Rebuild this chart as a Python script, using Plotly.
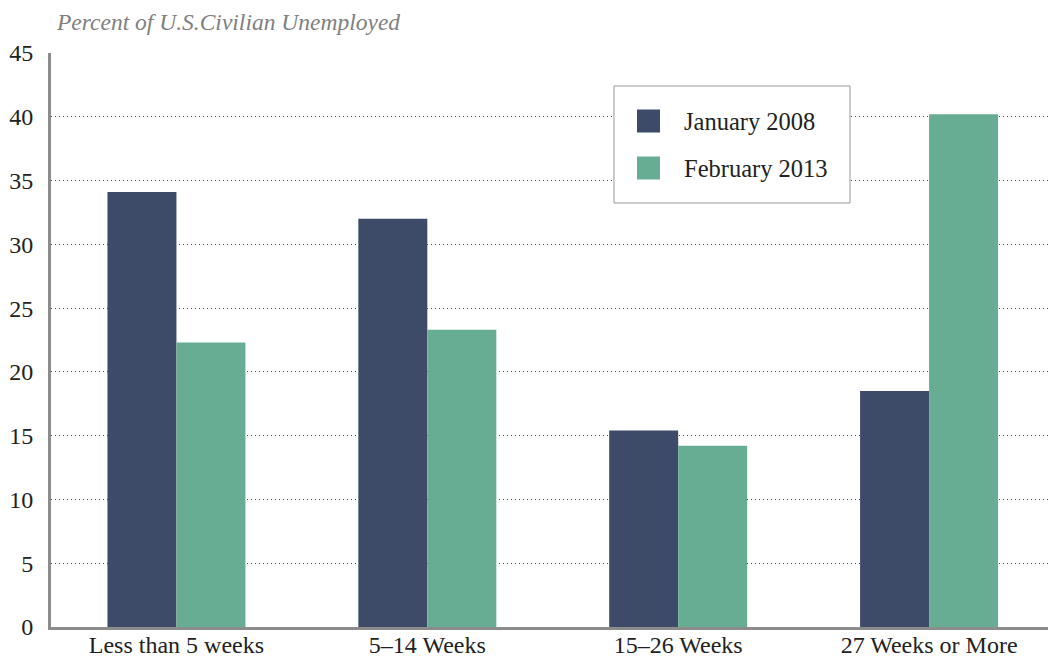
import plotly.graph_objects as go

categories = ['Less than 5 weeks', '5\u201314 Weeks', '15\u201326 Weeks', '27 Weeks or More']
jan_2008 = [34.1, 32.0, 15.4, 18.5]
feb_2013 = [22.3, 23.3, 14.2, 40.2]
series_names = ['January 2008', 'February 2013']
series_colors = ['#3d4a68', '#66ad93']
y_ticks = [0, 5, 10, 15, 20, 25, 30, 35, 40, 45]

font_family = 'Liberation Serif, DejaVu Serif, serif'

# plot area in page pixels, used to place the hand-made legend
X0, X1, Y0, Y1 = 51, 1048, 53, 627


def px(x):
    return (x - X0) / (X1 - X0)


def py(y):
    return (Y1 - y) / (Y1 - Y0)


fig = go.Figure()
for name, vals, col in zip(series_names, [jan_2008, feb_2013], series_colors):
    fig.add_trace(go.Bar(x=categories, y=vals, name=name, showlegend=False,
                         marker=dict(color=col, line_width=0)))

shapes = [dict(type='rect', xref='paper', yref='paper',
               x0=px(614), x1=px(850), y0=py(203), y1=py(86),
               line=dict(color='#999999', width=1), fillcolor='white', layer='above')]
annotations = [dict(
    text='<i>Percent of U.S.Civilian Unemployed</i>', xref='paper', yref='paper',
    x=px(54), y=py(22), xanchor='left', yanchor='middle',
    showarrow=False, font=dict(size=23.5, color='#808080', family=font_family),
)]
for i, (name, col) in enumerate(zip(series_names, series_colors)):
    cy = 121 + i * 47
    shapes.append(dict(type='rect', xref='paper', yref='paper',
                       x0=px(637), x1=px(660), y0=py(cy + 11.5), y1=py(cy - 11.5),
                       line_width=0, fillcolor=col, layer='above'))
    annotations.append(dict(text=name, xref='paper', yref='paper',
                            x=px(682), y=py(cy), xanchor='left', yanchor='middle',
                            showarrow=False,
                            font=dict(size=24.5, color='#222222', family=font_family)))

fig.update_layout(
    width=1048, height=658,
    margin=dict(l=X0, r=0, t=Y0, b=658 - Y1),
    plot_bgcolor='white', paper_bgcolor='white',
    barmode='group', bargap=0.45, bargroupgap=0,
    font=dict(family=font_family, size=24, color='#222222'),
    showlegend=False,
    shapes=shapes,
    annotations=annotations,
)
fig.update_xaxes(
    range=[-0.5, 3.474], showline=True, linecolor='#8c8c8c', linewidth=3,
    ticks='', tickfont=dict(size=24), showgrid=False, ticklabelstandoff=-6,
    automargin=False,
)
fig.update_yaxes(
    range=[0, 45], tickvals=y_ticks, showline=True, linecolor='#8c8c8c', linewidth=3,
    showgrid=True, gridcolor='#444444', griddash='1px,3px', gridwidth=1.2,
    zeroline=False, ticks='', tickfont=dict(size=24), ticklabelstandoff=10,
    automargin=False,
)

fig.write_html('out.html', config={'displayModeBar': False},
               post_script="document.body.style.margin='0px';")
